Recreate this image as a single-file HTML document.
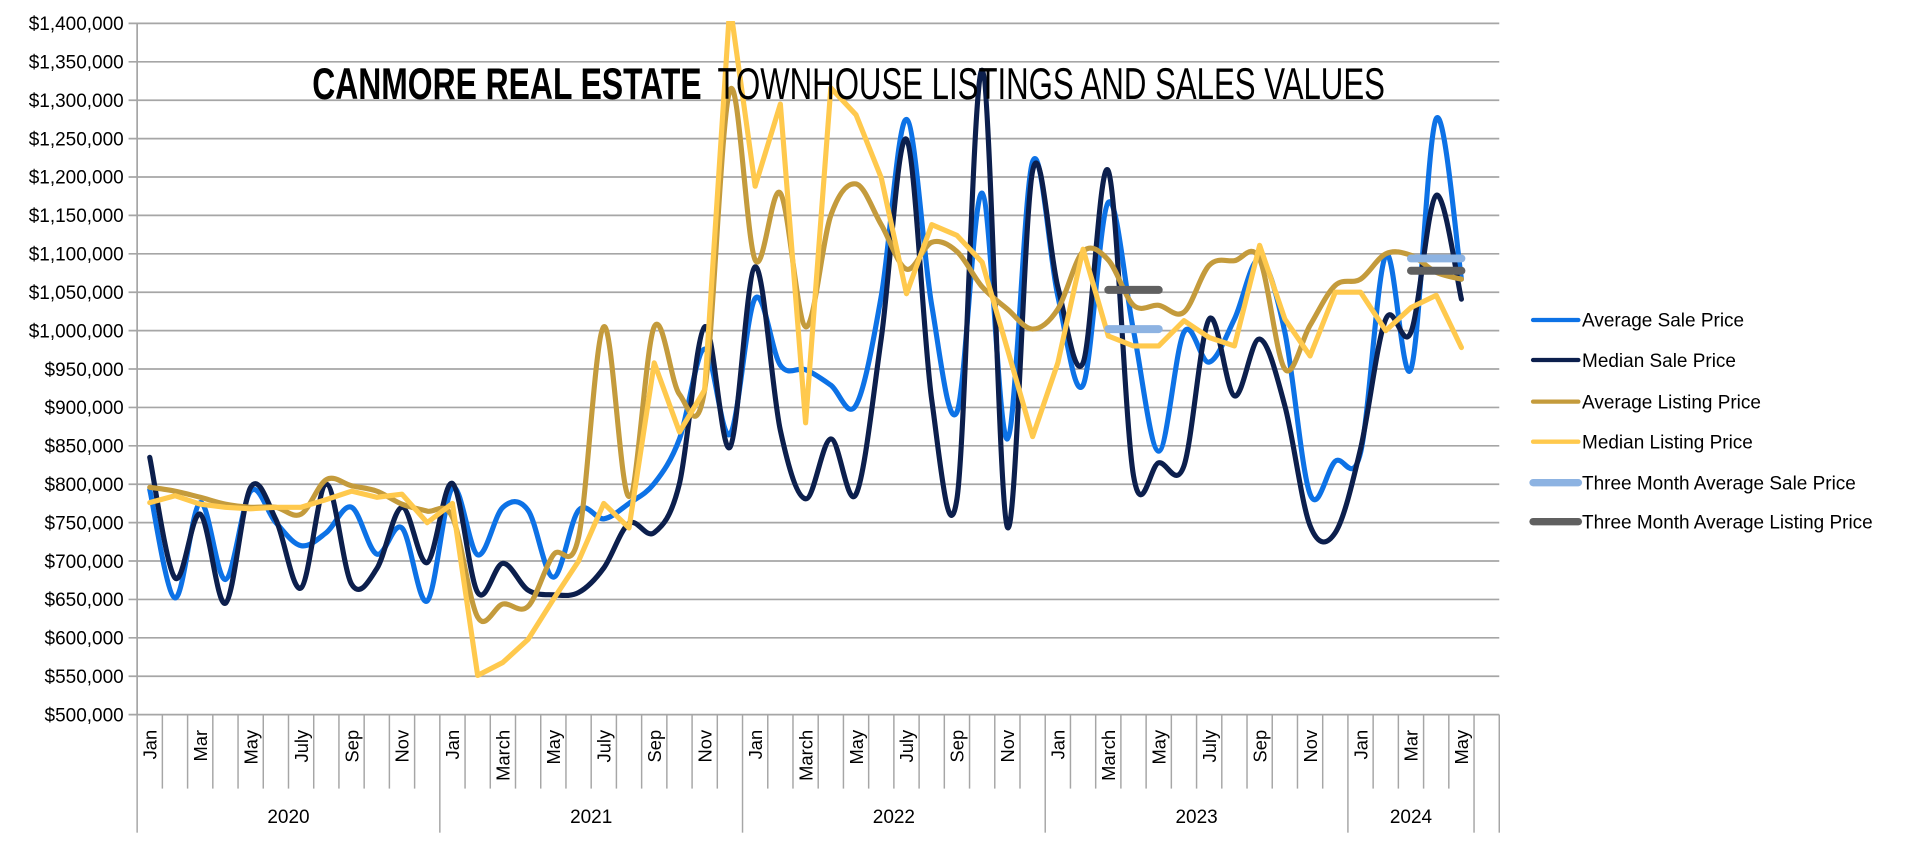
<!DOCTYPE html>
<html><head><meta charset="utf-8"><style>
html,body{margin:0;padding:0;background:#fff;}
svg{display:block;font-family:"Liberation Sans",Arial,sans-serif;}
</style></head><body>
<svg id="chart" width="1920" height="848" viewBox="0 0 1568 692.5" xmlns="http://www.w3.org/2000/svg">
<g id="grid"></g>
<g id="xaxis"></g>
<g id="yaxis"></g>
<g id="series"></g>
<text y="81" font-size="36" fill="#000"><tspan x="255" font-weight="bold" textLength="318" lengthAdjust="spacingAndGlyphs">CANMORE REAL ESTATE</tspan><tspan x="586" textLength="545" lengthAdjust="spacingAndGlyphs">TOWNHOUSE LISTINGS AND SALES VALUES</tspan></text>
<g id="legend"></g>
</svg>
<script>
const months=["Jan","Feb","Mar","Apr","May","Jun","July","Aug","Sep","Oct","Nov","Dec",
"Jan","Feb","March","Apr","May","Jun","July","Aug","Sep","Oct","Nov","Dec",
"Jan","Feb","March","Apr","May","Jun","July","Aug","Sep","Oct","Nov","Dec",
"Jan","Feb","March","Apr","May","Jun","July","Aug","Sep","Oct","Nov","Dec",
"Jan","Feb","Mar","Apr","May",""];
const years=["2020","2021","2022","2023","2024"];
const yearStarts=[0,12,24,36,48];
const yTicks=[500000,550000,600000,650000,700000,750000,800000,850000,900000,950000,1000000,1050000,1100000,1150000,1200000,1250000,1300000,1350000,1400000];
const avgSale=[793,652,776,676,791,750,720,737,770,709,743,648,
795,708,770,766,679,766,755,775,801,859,976,865,
1042,955,949,929,903,1045,1275,1033,894,1179,859,1220,
1045,929,1167,1000,843,998,959,1015,1093,998,787,830,
841,1098,950,1276,1067];
const medSale=[835,678,761,645,796,754,665,800,670,690,770,698,
801,659,697,662,656,659,691,749,737,801,1005,848,
1083,870,781,859,787,990,1249,910,781,1339,744,1208,
1057,958,1208,811,828,824,1015,915,989,902,746,737,
846,1015,998,1176,1041];
const avgList=[796,791,783,774,770,770,761,806,798,791,774,765,
757,627,644,641,708,731,1005,784,1005,917,923,1313,
1092,1179,1005,1150,1191,1138,1080,1115,1103,1057,1028,1002,
1028,1103,1092,1033,1033,1024,1085,1091,1093,950,1007,1059,
1067,1100,1098,1076,1067];
const medList=[776,785,774,770,768,770,770,780,791,783,787,750,
775,551,568,598,650,700,775,743,958,868,923,1425,
1188,1295,880,1316,1281,1199,1048,1138,1124,1089,976,862,
958,1106,993,980,980,1013,991,980,1111,1015,967,1050,
1050,1000,1030,1046,978];
const threeSaleStart=[38,50], threeSaleEnd=[40,52], threeSaleVal=[1002,1094];
const threeListStart=[38,50], threeListEnd=[40,52], threeListVal=[1053,1078];

const NS="http://www.w3.org/2000/svg";
const X0=112, SLOT=20.6, NSLOT=54, YT=19.1, YB=583.6, VMIN=500000, VMAX=1400000;
const xc=i=>X0+SLOT*(i+0.5);
const xb=i=>X0+SLOT*i;
const yv=v=>YB-(v-VMIN)/(VMAX-VMIN)*(YB-YT);
function mk(tag,attrs,parent){const e=document.createElementNS(NS,tag);for(const k in attrs)e.setAttribute(k,attrs[k]);parent.appendChild(e);return e;}
const grid=document.getElementById('grid'),xa=document.getElementById('xaxis'),ya=document.getElementById('yaxis'),ser=document.getElementById('series'),leg=document.getElementById('legend');
const XR=xb(NSLOT);
yTicks.forEach(v=>{
  const l=mk('line',{x1:105,x2:XR,y1:yv(v),y2:yv(v),stroke:'#a6a6a6','stroke-width':1.4},grid);
  
  
  const t=mk('text',{x:101,y:yv(v)+5.5,'text-anchor':'end','font-size':15.5,fill:'#000'},ya);
  t.textContent='$'+v.toLocaleString('en-US');
  
  
});
const ax=mk('line',{x1:X0,x2:X0,y1:YT,y2:YB,stroke:'#a6a6a6','stroke-width':1.4},ya);


for(let b=0;b<=NSLOT;b++){
  const long=yearStarts.includes(b)||b===53||b===54;
  const l=mk('line',{x1:xb(b),x2:xb(b),y1:YB,y2:long?680:644,stroke:'#a6a6a6','stroke-width':1.2},xa);
  
  
}
months.forEach((m,i)=>{
  const yi=i%12; if(i>=53||yi%2!==0)return;
  const x=xc(i)+5.5;
  const t=mk('text',{x:x,y:596,'text-anchor':'end','font-size':15,fill:'#000',transform:`rotate(-90 ${x} 596)`},xa);
  t.textContent=m;
  
  
});
years.forEach((y,k)=>{
  const s=yearStarts[k], e=k<4?yearStarts[k+1]:53;
  const t=mk('text',{x:(xb(s)+xb(e))/2,y:672,'text-anchor':'middle','font-size':15.5,fill:'#000'},xa);
  t.textContent=y;
  
  
});
function smooth(vals){
  const p=vals.map((v,i)=>[xc(i),yv(v*1000)]);
  let d=`M${p[0][0]},${p[0][1]}`;
  for(let i=0;i<p.length-1;i++){
    const p0=p[i-1]||p[i],p1=p[i],p2=p[i+1],p3=p[i+2]||p[i+1],t=1/6;
    d+=`C${p1[0]+(p2[0]-p0[0])*t},${p1[1]+(p2[1]-p0[1])*t} ${p2[0]-(p3[0]-p1[0])*t},${p2[1]-(p3[1]-p1[1])*t} ${p2[0]},${p2[1]}`;
  }
  return d;
}
function straight(vals){return vals.map((v,i)=>(i?'L':'M')+xc(i)+','+yv(v*1000)).join('');}
const clip=mk('clipPath',{id:'pc'},ser);mk('rect',{x:X0,y:YT-2,width:XR-X0,height:YB-YT+2},clip);
const sg=mk('g',{'clip-path':'url(#pc)'},ser);
const defs=[['avg-sale-line',avgSale,'#0d72e6',true],['median-sale-line',medSale,'#0c1f4d',true],['avg-listing-line',avgList,'#c49b3c',true],['median-listing-line',medList,'#ffc94d',false]];
defs.forEach(([n,v,c,s])=>{
  const p=mk('path',{d:s?smooth(v):straight(v),fill:'none',stroke:c,'stroke-width':4.2,'stroke-linejoin':'round','stroke-linecap':'round'},sg);
  
  
});
threeSaleVal.forEach((v,k)=>{
  const p=mk('line',{x1:xc(threeSaleStart[k]),x2:xc(threeSaleEnd[k]),y1:yv(v*1000),y2:yv(v*1000),stroke:'#8db3e2','stroke-width':6.5,'stroke-linecap':'round'},ser);
  
  
});
threeListVal.forEach((v,k)=>{
  const p=mk('line',{x1:xc(threeListStart[k]),x2:xc(threeListEnd[k]),y1:yv(v*1000),y2:yv(v*1000),stroke:'#606060','stroke-width':6.5,'stroke-linecap':'round'},ser);
  
  
});
const legItems=[['Average Sale Price','#0d72e6',3.5],['Median Sale Price','#0c1f4d',3.5],['Average Listing Price','#c49b3c',3.5],['Median Listing Price','#ffc94d',3.5],['Three Month Average Sale Price','#8db3e2',6],['Three Month Average Listing Price','#606060',6]];
const legY=[261.3,294,328,360.7,394.2,426];
legItems.forEach(([t,c,w],k)=>{
  const g=mk('g',{},leg);
  
  
  mk('line',{x1:1252,x2:1289,y1:legY[k],y2:legY[k],stroke:c,'stroke-width':w,'stroke-linecap':'round'},g);
  const tx=mk('text',{x:1292,y:legY[k]+5.5,'font-size':15.5,fill:'#000'},g);
  tx.textContent=t;
});
</script>
</body></html>
